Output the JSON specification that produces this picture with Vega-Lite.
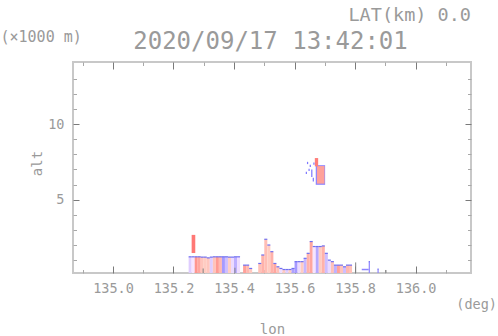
{
  "$schema": "https://vega.github.io/schema/vega-lite/v6.json",
  "width": 398,
  "height": 211,
  "autosize": {"type": "none"},
  "padding": {"left": 73, "top": 62, "right": 27, "bottom": 63},
  "background": "white",
  "config": {
    "view": {"stroke": "#c8c8c8", "strokeWidth": 2},
    "axis": {
      "domain": false,
      "grid": false,
      "labelFont": "DejaVu Sans Mono",
      "titleFont": "DejaVu Sans Mono",
      "labelColor": "#9a9a9a",
      "titleColor": "#9a9a9a",
      "titleFontWeight": "normal",
      "labelFontSize": 13.5,
      "titleFontSize": 14,
      "tickWidth": 1
    }
  },
  "title": {
    "text": "LAT(km) 0.0",
    "anchor": "end",
    "frame": "group",
    "font": "DejaVu Sans Mono",
    "fontSize": 18.5,
    "fontWeight": "normal",
    "color": "#9a9a9a",
    "offset": 5
  },
  "datasets": {
    "cells": [
      {"lon": 135.25, "lon2": 135.26, "alt": 0, "alt2": 1.22, "v": -0.2},
      {"lon": 135.26, "lon2": 135.27, "alt": 0, "alt2": 1.22, "v": -0.05},
      {"lon": 135.27, "lon2": 135.28, "alt": 0, "alt2": 1.22, "v": 0.5},
      {"lon": 135.28, "lon2": 135.29, "alt": 0, "alt2": 1.22, "v": 0.35},
      {"lon": 135.29, "lon2": 135.30, "alt": 0, "alt2": 1.2, "v": 0.1},
      {"lon": 135.30, "lon2": 135.31, "alt": 0, "alt2": 1.2, "v": 0.03},
      {"lon": 135.31, "lon2": 135.32, "alt": 0, "alt2": 1.15, "v": 0.08},
      {"lon": 135.32, "lon2": 135.33, "alt": 0, "alt2": 1.2, "v": -0.2},
      {"lon": 135.33, "lon2": 135.34, "alt": 0, "alt2": 1.22, "v": 0.1},
      {"lon": 135.34, "lon2": 135.35, "alt": 0, "alt2": 1.22, "v": 0.45},
      {"lon": 135.35, "lon2": 135.36, "alt": 0, "alt2": 1.22, "v": 0.2},
      {"lon": 135.36, "lon2": 135.37, "alt": 0, "alt2": 1.22, "v": -0.55},
      {"lon": 135.37, "lon2": 135.38, "alt": 0, "alt2": 1.22, "v": -0.3},
      {"lon": 135.38, "lon2": 135.39, "alt": 0, "alt2": 1.2, "v": 0.0},
      {"lon": 135.39, "lon2": 135.40, "alt": 0, "alt2": 1.2, "v": -0.12},
      {"lon": 135.40, "lon2": 135.41, "alt": 0, "alt2": 1.22, "v": -0.4},
      {"lon": 135.41, "lon2": 135.42, "alt": 0, "alt2": 1.22, "v": -0.1},
      {"lon": 135.43, "lon2": 135.44, "alt": 0, "alt2": 0.67, "v": 0.4},
      {"lon": 135.44, "lon2": 135.45, "alt": 0, "alt2": 0.67, "v": 0.2},
      {"lon": 135.45, "lon2": 135.46, "alt": 0, "alt2": 0.45, "v": 0.05},
      {"lon": 135.48, "lon2": 135.49, "alt": 0, "alt2": 0.78, "v": 0.12},
      {"lon": 135.49, "lon2": 135.50, "alt": 0, "alt2": 1.34, "v": 0.25},
      {"lon": 135.50, "lon2": 135.51, "alt": 0, "alt2": 2.38, "v": 0.15},
      {"lon": 135.51, "lon2": 135.52, "alt": 0, "alt2": 2.0, "v": 0.03},
      {"lon": 135.52, "lon2": 135.53, "alt": 0, "alt2": 1.56, "v": 0.25},
      {"lon": 135.53, "lon2": 135.54, "alt": 0, "alt2": 0.78, "v": 0.35},
      {"lon": 135.54, "lon2": 135.55, "alt": 0, "alt2": 0.56, "v": 0.12},
      {"lon": 135.55, "lon2": 135.56, "alt": 0, "alt2": 0.45, "v": -0.1},
      {"lon": 135.56, "lon2": 135.57, "alt": 0, "alt2": 0.38, "v": 0.05},
      {"lon": 135.57, "lon2": 135.58, "alt": 0, "alt2": 0.38, "v": -0.2},
      {"lon": 135.58, "lon2": 135.59, "alt": 0, "alt2": 0.38, "v": 0.03},
      {"lon": 135.59, "lon2": 135.60, "alt": 0, "alt2": 0.45, "v": -0.5},
      {"lon": 135.60, "lon2": 135.61, "alt": 0, "alt2": 0.9, "v": -0.55},
      {"lon": 135.61, "lon2": 135.62, "alt": 0, "alt2": 0.9, "v": -0.12},
      {"lon": 135.62, "lon2": 135.63, "alt": 0, "alt2": 0.9, "v": 0.03},
      {"lon": 135.63, "lon2": 135.64, "alt": 0, "alt2": 1.12, "v": -0.35},
      {"lon": 135.64, "lon2": 135.65, "alt": 0, "alt2": 1.45, "v": 0.25},
      {"lon": 135.65, "lon2": 135.66, "alt": 0, "alt2": 2.23, "v": 0.35},
      {"lon": 135.66, "lon2": 135.67, "alt": 0, "alt2": 1.9, "v": -0.05},
      {"lon": 135.67, "lon2": 135.68, "alt": 0, "alt2": 1.9, "v": -0.45},
      {"lon": 135.68, "lon2": 135.69, "alt": 0, "alt2": 1.9, "v": 0.03},
      {"lon": 135.69, "lon2": 135.70, "alt": 0, "alt2": 1.94, "v": 0.25},
      {"lon": 135.70, "lon2": 135.71, "alt": 0, "alt2": 1.45, "v": -0.3},
      {"lon": 135.71, "lon2": 135.72, "alt": 0, "alt2": 1.0, "v": -0.12},
      {"lon": 135.72, "lon2": 135.73, "alt": 0, "alt2": 0.9, "v": 0.12},
      {"lon": 135.73, "lon2": 135.74, "alt": 0, "alt2": 0.67, "v": -0.4},
      {"lon": 135.74, "lon2": 135.75, "alt": 0, "alt2": 0.67, "v": 0.4},
      {"lon": 135.75, "lon2": 135.76, "alt": 0, "alt2": 0.67, "v": 0.1},
      {"lon": 135.76, "lon2": 135.77, "alt": 0, "alt2": 0.56, "v": -0.3},
      {"lon": 135.77, "lon2": 135.78, "alt": 0, "alt2": 0.67, "v": 0.2},
      {"lon": 135.78, "lon2": 135.79, "alt": 0, "alt2": 0.67, "v": 0.12},
      {"lon": 135.845, "lon2": 135.849, "alt": 0, "alt2": 0.9, "v": -0.7},
      {"lon": 135.874, "lon2": 135.878, "alt": 0, "alt2": 0.4, "v": -0.7},
      {"lon": 135.26, "lon2": 135.272, "alt": 1.47, "alt2": 2.67, "v": 0.75},
      {"lon": 135.822, "lon2": 135.845, "alt": 0.33, "alt2": 0.43, "v": -0.7},
      {"lon": 135.670, "lon2": 135.701, "alt": 5.98, "alt2": 7.28, "v": -0.7},
      {"lon": 135.674, "lon2": 135.699, "alt": 6.06, "alt2": 7.22, "v": 0.4},
      {"lon": 135.667, "lon2": 135.678, "alt": 7.2, "alt2": 7.75, "v": 0.7},
      {"lon": 135.637, "lon2": 135.641, "alt": 6.7, "alt2": 6.85, "v": -0.8},
      {"lon": 135.650, "lon2": 135.654, "alt": 7.15, "alt2": 7.3, "v": -0.8},
      {"lon": 135.655, "lon2": 135.659, "alt": 6.5, "alt2": 7.0, "v": -0.8},
      {"lon": 135.662, "lon2": 135.666, "alt": 7.3, "alt2": 7.45, "v": -0.8},
      {"lon": 135.641, "lon2": 135.645, "alt": 7.35, "alt2": 7.5, "v": -0.8},
      {"lon": 135.660, "lon2": 135.664, "alt": 6.2, "alt2": 6.45, "v": -0.8},
      {"lon": 135.646, "lon2": 135.650, "alt": 6.9, "alt2": 7.05, "v": -0.8}
    ],
    "clutter": [
      {"lon": 135.298, "alt": 0, "alt2": 0.45},
      {"lon": 135.403, "alt": 0, "alt2": 0.5},
      {"lon": 135.802, "alt": 0, "alt2": 0.85},
      {"lon": 135.902, "alt": 0, "alt2": 0.35}
    ]
  },
  "layer": [
    {
      "data": {"name": "cells"},
      "mark": {"type": "rect", "clip": true},
      "encoding": {
        "x": {
          "field": "lon", "type": "quantitative",
          "scale": {"domain": [134.868, 136.183], "nice": false, "zero": false},
          "axis": {
            "orient": "bottom",
            "values": [134.9, 135.0, 135.1, 135.2, 135.3, 135.4, 135.5, 135.6, 135.7, 135.8, 135.9, 136.0, 136.1, 136.18],
            "labelExpr": "datum.value > 136.15 ? '(deg)' : (round(datum.value * 10) % 2 == 0 ? format(datum.value, '.1f') : '')",
            "labelFlush": false,
            "labelOverlap": false,
            "labelBound": false,
            "tickSize": {"condition": {"test": "round(datum.value * 10) % 2 == 0", "value": -7}, "value": -3.5},
            "tickColor": {"condition": {"test": "round(datum.value * 10) % 2 == 0", "value": "#7a7a7a"}, "value": "#a8a8a8"},
            "tickOpacity": {"condition": {"test": "datum.value > 136.15", "value": 0}, "value": 1},
            "labelPadding": {"condition": {"test": "datum.value > 136.15", "value": 31}, "value": 15},
            "labelOffset": {"condition": {"test": "datum.value > 136.15", "value": 6}, "value": 0},
            "title": "lon",
            "titleY": 60,
            "titleBaseline": "alphabetic"
          }
        },
        "x2": {"field": "lon2"},
        "y": {
          "field": "alt", "type": "quantitative",
          "scale": {"domain": [0.15, 14.1], "nice": false, "zero": false},
          "axis": {
            "orient": "left",
            "values": [1, 2, 3, 4, 5, 6, 7, 8, 9, 10, 11, 12, 13],
            "labelExpr": "datum.value % 5 == 0 ? datum.label : ''",
            "tickSize": {"condition": {"test": "datum.value % 5 == 0", "value": -6}, "value": -3.5},
            "tickColor": {"condition": {"test": "datum.value % 5 == 0", "value": "#7a7a7a"}, "value": "#a8a8a8"},
            "labelPadding": 15,
            "title": "alt",
            "titleX": -36,
            "titleY": 101,
            "titleBaseline": "middle"
          }
        },
        "y2": {"field": "alt2"},
        "color": {
          "field": "v", "type": "quantitative",
          "scale": {"domain": [-1, 0, 1], "range": ["#5c5cee", "#ffffff", "#ee5c5c"]},
          "legend": null
        }
      }
    },
    {
      "data": {"name": "cells"},
      "transform": [{"filter": "datum.alt == 0"}],
      "mark": {"type": "rule", "color": "#7070f0", "strokeWidth": 1.2, "clip": true},
      "encoding": {
        "x": {
          "field": "lon", "type": "quantitative",
          "scale": {"domain": [134.868, 136.183], "nice": false, "zero": false},
          "axis": {
            "orient": "top",
            "values": [134.9, 135.0, 135.1, 135.2, 135.3, 135.4, 135.5, 135.6, 135.7, 135.8, 135.9, 136.0, 136.1],
            "labels": false,
            "tickSize": {"condition": {"test": "round(datum.value * 10) % 2 == 0", "value": -7}, "value": -3.5},
            "tickColor": {"condition": {"test": "round(datum.value * 10) % 2 == 0", "value": "#7a7a7a"}, "value": "#a8a8a8"},
            "title": "2020/09/17 13:42:01",
            "titleFontSize": 24,
            "titleX": 197,
            "titleY": -14,
            "titleBaseline": "alphabetic"
          }
        },
        "x2": {"field": "lon2"},
        "y": {
          "field": "alt2", "type": "quantitative",
          "scale": {"domain": [0.15, 14.1], "nice": false, "zero": false},
          "axis": {
            "orient": "right",
            "values": [1, 2, 3, 4, 5, 6, 7, 8, 9, 10, 11, 12, 13],
            "labels": false,
            "tickSize": {"condition": {"test": "datum.value % 5 == 0", "value": -6}, "value": -3.5},
            "tickColor": {"condition": {"test": "datum.value % 5 == 0", "value": "#7a7a7a"}, "value": "#a8a8a8"},
            "title": "(×1000 m)",
            "titleFontSize": 15,
            "titleAngle": 0,
            "titleAlign": "left",
            "titleBaseline": "alphabetic",
            "titleX": -471,
            "titleY": -21
          }
        }
      }
    },
    {
      "data": {"name": "clutter"},
      "mark": {"type": "rule", "color": "#808080", "strokeWidth": 1, "clip": true},
      "encoding": {
        "x": {"field": "lon", "type": "quantitative", "scale": {"domain": [134.868, 136.183], "nice": false, "zero": false}, "axis": null},
        "y": {"field": "alt", "type": "quantitative", "scale": {"domain": [0.15, 14.1], "nice": false, "zero": false}, "axis": null},
        "y2": {"field": "alt2"}
      }
    }
  ],
  "resolve": {"axis": {"x": "independent", "y": "independent"}}
}
